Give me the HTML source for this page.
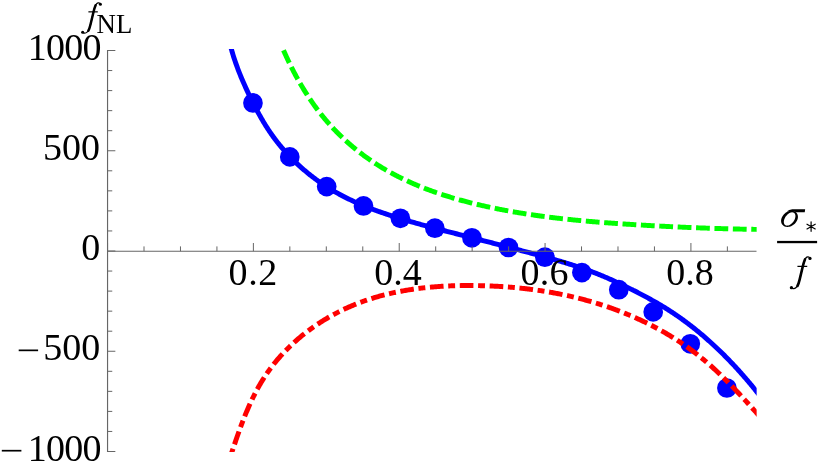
<!DOCTYPE html>
<html><head><meta charset="utf-8"><title>plot</title><style>
html,body{margin:0;padding:0;background:#fff}
#w{position:relative;width:830px;height:474px;overflow:hidden;background:#fff}
svg{display:block}
</style></head><body><div id="w">
<svg width="830" height="474" viewBox="0 0 830 474" style="will-change:transform">
<defs><clipPath id="c"><rect x="107.55" y="49.05" width="649.1" height="402.84999999999997"/></clipPath></defs>
<g clip-path="url(#c)" fill="none">
<g fill="#0000ff"><circle cx="252.95" cy="102.95" r="9.85"/><circle cx="289.80" cy="156.90" r="9.85"/><circle cx="326.70" cy="186.60" r="9.85"/><circle cx="363.50" cy="205.95" r="9.85"/><circle cx="400.40" cy="218.30" r="9.85"/><circle cx="434.90" cy="228.20" r="9.85"/><circle cx="471.90" cy="237.80" r="9.85"/><circle cx="508.50" cy="247.50" r="9.85"/><circle cx="544.90" cy="257.20" r="9.85"/><circle cx="581.90" cy="272.60" r="9.85"/><circle cx="618.80" cy="289.70" r="9.85"/><circle cx="653.20" cy="311.90" r="9.85"/><circle cx="690.30" cy="343.80" r="9.85"/><circle cx="726.90" cy="388.00" r="9.85"/></g>
<path d="M229.77 43.64 L231.45 49.40 L231.74 50.44 L232.03 51.48 L232.34 52.51 L232.65 53.55 L232.96 54.59 L233.28 55.62 L233.60 56.66 L233.93 57.69 L234.27 58.73 L234.61 59.76 L234.96 60.79 L235.31 61.83 L235.67 62.86 L236.03 63.89 L236.40 64.92 L236.77 65.95 L237.15 66.98 L237.53 68.01 L237.92 69.04 L238.31 70.06 L238.70 71.09 L239.10 72.12 L239.51 73.14 L239.91 74.16 L240.33 75.19 L240.74 76.21 L241.16 77.23 L241.59 78.25 L242.02 79.27 L242.45 80.28 L242.89 81.30 L243.33 82.31 L243.77 83.33 L244.22 84.34 L244.67 85.35 L245.12 86.36 L245.58 87.36 L246.04 88.37 L246.50 89.38 L246.96 90.38 L247.43 91.38 L247.90 92.38 L248.38 93.38 L248.85 94.38 L249.33 95.37 L249.82 96.36 L250.30 97.36 L250.79 98.35 L251.28 99.33 L251.77 100.32 L252.26 101.30 L252.76 102.29 L253.25 103.27 L253.75 104.24 L254.25 105.22 L254.76 106.19 L255.26 107.17 L255.77 108.13 L256.28 109.10 L256.79 110.07 L257.31 111.03 L257.83 111.99 L258.35 112.95 L258.88 113.91 L259.40 114.86 L259.94 115.81 L260.47 116.76 L261.01 117.71 L261.55 118.65 L262.10 119.59 L262.65 120.53 L263.20 121.46 L263.76 122.40 L264.32 123.33 L264.89 124.26 L265.46 125.18 L266.04 126.10 L266.62 127.02 L267.21 127.94 L267.80 128.85 L268.40 129.76 L269.00 130.67 L269.60 131.57 L270.22 132.48 L270.84 133.37 L271.46 134.27 L272.09 135.16 L272.73 136.05 L273.37 136.94 L274.02 137.82 L274.67 138.70 L275.33 139.57 L275.99 140.44 L276.66 141.31 L277.34 142.18 L278.02 143.04 L278.71 143.90 L279.40 144.75 L280.10 145.61 L280.80 146.45 L281.51 147.30 L282.22 148.14 L282.94 148.97 L283.66 149.81 L284.39 150.64 L285.13 151.46 L285.87 152.28 L286.61 153.10 L287.36 153.91 L288.11 154.72 L288.87 155.53 L289.63 156.33 L290.40 157.13 L291.17 157.92 L291.95 158.71 L292.73 159.49 L293.52 160.27 L294.31 161.05 L295.10 161.82 L295.90 162.59 L296.71 163.35 L297.51 164.11 L298.32 164.87 L299.14 165.62 L299.96 166.36 L300.78 167.10 L301.61 167.84 L302.44 168.57 L303.28 169.30 L304.12 170.02 L304.96 170.74 L305.81 171.45 L306.66 172.16 L307.52 172.87 L308.37 173.56 L309.24 174.26 L310.10 174.95 L310.97 175.63 L311.84 176.31 L312.72 176.98 L313.60 177.65 L314.48 178.32 L315.36 178.97 L316.25 179.63 L317.14 180.28 L318.04 180.92 L318.93 181.56 L319.83 182.19 L320.74 182.82 L321.64 183.44 L322.55 184.05 L323.46 184.67 L324.38 185.27 L325.29 185.87 L326.21 186.47 L327.14 187.05 L328.06 187.64 L328.99 188.21 L329.92 188.79 L330.85 189.35 L331.78 189.91 L332.72 190.47 L333.66 191.02 L334.60 191.57 L335.55 192.11 L336.49 192.64 L337.44 193.17 L338.39 193.70 L339.34 194.22 L340.30 194.73 L341.26 195.24 L342.22 195.75 L343.18 196.25 L344.14 196.75 L345.11 197.24 L346.08 197.72 L347.05 198.21 L348.02 198.68 L349.00 199.16 L349.97 199.63 L350.95 200.09 L351.93 200.55 L352.91 201.01 L353.90 201.46 L354.88 201.91 L355.87 202.35 L356.86 202.79 L357.85 203.23 L358.85 203.66 L359.84 204.09 L360.84 204.52 L361.84 204.94 L362.84 205.35 L363.84 205.77 L364.85 206.18 L365.85 206.59 L366.86 206.99 L367.87 207.39 L368.88 207.79 L369.89 208.18 L370.91 208.57 L371.92 208.96 L372.94 209.34 L373.96 209.72 L374.98 210.10 L376.00 210.47 L377.02 210.84 L378.05 211.21 L379.07 211.58 L380.10 211.94 L381.13 212.30 L382.16 212.66 L383.19 213.02 L384.22 213.37 L385.26 213.72 L386.29 214.07 L387.33 214.42 L388.36 214.76 L389.40 215.10 L390.44 215.44 L391.48 215.78 L392.53 216.11 L393.57 216.44 L394.61 216.77 L395.66 217.10 L396.70 217.43 L397.75 217.76 L398.80 218.08 L399.85 218.40 L400.90 218.72 L401.95 219.04 L403.00 219.36 L404.06 219.67 L405.11 219.98 L406.16 220.30 L407.22 220.61 L408.28 220.92 L409.33 221.22 L410.39 221.53 L411.45 221.83 L412.51 222.14 L413.57 222.44 L414.63 222.74 L415.69 223.04 L416.75 223.34 L417.81 223.64 L418.88 223.93 L419.94 224.23 L421.00 224.52 L422.07 224.81 L423.13 225.10 L424.20 225.40 L425.27 225.68 L426.33 225.97 L427.40 226.26 L428.47 226.55 L429.54 226.83 L430.60 227.12 L431.67 227.40 L432.74 227.68 L433.81 227.97 L434.88 228.25 L435.95 228.53 L437.02 228.81 L438.09 229.09 L439.16 229.37 L440.23 229.64 L441.30 229.92 L442.37 230.20 L443.44 230.47 L444.51 230.75 L445.58 231.02 L446.65 231.30 L447.72 231.57 L448.79 231.85 L449.86 232.12 L450.94 232.39 L452.01 232.66 L453.08 232.94 L454.15 233.21 L455.22 233.48 L456.29 233.75 L457.36 234.02 L458.43 234.29 L459.50 234.57 L460.57 234.84 L461.63 235.11 L462.70 235.38 L463.77 235.65 L464.84 235.92 L465.91 236.19 L466.97 236.46 L468.04 236.73 L469.11 237.00 L470.17 237.27 L471.24 237.54 L472.30 237.81 L473.37 238.09 L474.43 238.36 L475.50 238.63 L476.56 238.90 L477.62 239.17 L478.68 239.45 L479.75 239.72 L480.81 239.99 L481.87 240.26 L482.93 240.54 L483.99 240.81 L485.05 241.08 L486.11 241.36 L487.17 241.63 L488.23 241.91 L489.28 242.18 L490.34 242.45 L491.40 242.73 L492.46 243.00 L493.51 243.28 L494.57 243.55 L495.63 243.83 L496.68 244.11 L497.74 244.38 L498.80 244.66 L499.85 244.93 L500.91 245.21 L501.96 245.49 L503.02 245.76 L504.07 246.04 L505.13 246.32 L506.18 246.59 L507.24 246.87 L508.29 247.15 L509.34 247.43 L510.40 247.70 L511.45 247.98 L512.50 248.26 L513.56 248.54 L514.61 248.82 L515.67 249.09 L516.72 249.37 L517.77 249.65 L518.83 249.93 L519.88 250.21 L520.93 250.49 L521.99 250.77 L523.04 251.05 L524.09 251.33 L525.15 251.61 L526.20 251.89 L527.25 252.17 L528.31 252.45 L529.36 252.73 L530.41 253.01 L531.47 253.29 L532.52 253.57 L533.57 253.86 L534.63 254.14 L535.68 254.42 L536.73 254.70 L537.79 254.99 L538.84 255.27 L539.89 255.56 L540.95 255.84 L542.00 256.13 L543.05 256.42 L544.11 256.71 L545.16 257.00 L546.21 257.29 L547.26 257.58 L548.31 257.87 L549.37 258.17 L550.42 258.46 L551.47 258.76 L552.52 259.05 L553.57 259.35 L554.62 259.65 L555.67 259.95 L556.72 260.26 L557.77 260.56 L558.82 260.87 L559.87 261.17 L560.91 261.48 L561.96 261.79 L563.01 262.11 L564.06 262.42 L565.10 262.74 L566.15 263.05 L567.19 263.38 L568.24 263.70 L569.28 264.02 L570.33 264.35 L571.37 264.68 L572.41 265.01 L573.46 265.34 L574.50 265.68 L575.54 266.02 L576.58 266.36 L577.62 266.70 L578.66 267.05 L579.70 267.40 L580.73 267.75 L581.77 268.10 L582.81 268.46 L583.84 268.82 L584.88 269.18 L585.91 269.55 L586.95 269.92 L587.98 270.29 L589.01 270.67 L590.04 271.05 L591.07 271.43 L592.10 271.82 L593.13 272.21 L594.16 272.60 L595.18 273.00 L596.21 273.40 L597.23 273.80 L598.26 274.21 L599.28 274.62 L600.30 275.03 L601.32 275.45 L602.34 275.88 L603.36 276.30 L604.38 276.73 L605.40 277.16 L606.41 277.60 L607.43 278.04 L608.44 278.48 L609.46 278.92 L610.47 279.37 L611.48 279.82 L612.49 280.28 L613.50 280.73 L614.50 281.19 L615.51 281.65 L616.51 282.12 L617.52 282.58 L618.52 283.05 L619.52 283.52 L620.52 284.00 L621.52 284.47 L622.51 284.95 L623.51 285.43 L624.51 285.91 L625.50 286.40 L626.49 286.88 L627.48 287.37 L628.47 287.86 L629.46 288.35 L630.44 288.84 L631.43 289.34 L632.41 289.83 L633.39 290.33 L634.37 290.82 L635.35 291.32 L636.33 291.82 L637.31 292.32 L638.28 292.83 L639.26 293.33 L640.23 293.84 L641.20 294.34 L642.16 294.85 L643.13 295.36 L644.10 295.87 L645.06 296.39 L646.02 296.90 L646.98 297.42 L647.94 297.94 L648.90 298.46 L649.85 298.98 L650.81 299.51 L651.76 300.04 L652.71 300.57 L653.66 301.10 L654.60 301.64 L655.55 302.18 L656.49 302.72 L657.43 303.26 L658.37 303.81 L659.31 304.36 L660.24 304.91 L661.17 305.47 L662.11 306.03 L663.04 306.59 L663.96 307.16 L664.89 307.73 L665.81 308.30 L666.74 308.88 L667.66 309.46 L668.57 310.04 L669.49 310.63 L670.40 311.22 L671.32 311.82 L672.23 312.42 L673.13 313.02 L674.04 313.63 L674.94 314.23 L675.84 314.85 L676.74 315.46 L677.64 316.08 L678.54 316.71 L679.43 317.34 L680.32 317.97 L681.21 318.60 L682.10 319.24 L682.99 319.88 L683.87 320.52 L684.75 321.17 L685.63 321.82 L686.51 322.47 L687.38 323.13 L688.26 323.79 L689.13 324.45 L690.00 325.12 L690.86 325.79 L691.73 326.46 L692.59 327.14 L693.45 327.81 L694.31 328.50 L695.17 329.18 L696.02 329.87 L696.87 330.56 L697.72 331.25 L698.57 331.95 L699.42 332.65 L700.26 333.35 L701.10 334.06 L701.94 334.76 L702.78 335.48 L703.62 336.19 L704.45 336.90 L705.28 337.62 L706.11 338.35 L706.94 339.07 L707.76 339.80 L708.58 340.53 L709.40 341.26 L710.22 341.99 L711.04 342.73 L711.85 343.47 L712.66 344.21 L713.47 344.96 L714.28 345.71 L715.08 346.46 L715.89 347.21 L716.69 347.96 L717.49 348.72 L718.28 349.48 L719.08 350.24 L719.87 351.00 L720.66 351.77 L721.45 352.54 L722.23 353.31 L723.02 354.08 L723.80 354.86 L724.58 355.63 L725.35 356.41 L726.13 357.19 L726.90 357.98 L727.67 358.76 L728.44 359.55 L729.20 360.34 L729.96 361.13 L730.73 361.93 L731.48 362.72 L732.24 363.52 L733.00 364.32 L733.75 365.12 L734.50 365.92 L735.24 366.73 L735.99 367.53 L736.73 368.34 L737.47 369.15 L738.21 369.96 L738.95 370.78 L739.68 371.59 L740.41 372.41 L741.14 373.23 L741.87 374.05 L742.59 374.87 L743.31 375.69 L744.03 376.52 L744.75 377.34 L745.47 378.17 L746.18 379.00 L746.89 379.83 L747.60 380.66 L748.31 381.50 L749.01 382.33 L749.71 383.17 L750.41 384.01 L751.11 384.84 L751.80 385.68 L752.49 386.53 L753.18 387.37 L753.87 388.21 L754.56 389.06 L755.24 389.90 L755.92 390.75 L756.60 391.60 L761.62 397.83" stroke="#0000ff" stroke-width="4.95"/>
<path d="M283.43 50.07 L283.79 50.90 L284.15 51.73 L284.52 52.55 L284.89 53.38 L285.26 54.20 L285.63 55.02 L286.00 55.84 L286.38 56.67 L286.76 57.49 L287.14 58.31 L287.52 59.12 L287.91 59.94 L288.29 60.76 L288.68 61.57 L289.07 62.39 L289.47 63.20 L289.86 64.01 L290.26 64.82 L290.66 65.64 L291.06 66.44 L291.46 67.25 L291.87 68.06 L292.28 68.87 L292.69 69.67 L293.10 70.47 L293.51 71.28 L293.93 72.08 L294.35 72.88 L294.77 73.68 L295.20 74.47 L295.62 75.27 L296.05 76.06 L296.48 76.86 L296.91 77.65 L297.35 78.44 L297.79 79.23 L298.23 80.02 L298.67 80.80 L299.11 81.59 L299.56 82.37 L300.01 83.16 L300.46 83.94 L300.92 84.71 L301.37 85.49 L301.83 86.27 L302.29 87.04 L302.76 87.82 L303.22 88.59 L303.69 89.36 L304.16 90.13 L304.64 90.89 L305.11 91.66 L305.59 92.42 L306.08 93.18 L306.56 93.94 L307.05 94.70 L307.53 95.45 L308.03 96.21 L308.52 96.96 L309.02 97.71 L309.52 98.46 L310.02 99.21 L310.52 99.95 L311.03 100.70 L311.54 101.44 L312.05 102.18 L312.57 102.91 L313.09 103.65 L313.61 104.38 L314.13 105.11 L314.65 105.84 L315.18 106.57 L315.71 107.30 L316.25 108.02 L316.79 108.74 L317.32 109.46 L317.87 110.18 L318.41 110.89 L318.96 111.60 L319.51 112.31 L320.06 113.02 L320.62 113.73 L321.18 114.43 L321.74 115.13 L322.31 115.83 L322.87 116.53 L323.44 117.22 L324.02 117.92 L324.59 118.61 L325.17 119.29 L325.75 119.98 L326.33 120.66 L326.92 121.34 L327.51 122.02 L328.10 122.70 L328.70 123.37 L329.29 124.04 L329.89 124.71 L330.50 125.38 L331.10 126.04 L331.71 126.70 L332.32 127.36 L332.93 128.02 L333.55 128.67 L334.17 129.33 L334.79 129.97 L335.41 130.62 L336.04 131.27 L336.66 131.91 L337.29 132.55 L337.93 133.18 L338.56 133.82 L339.20 134.45 L339.84 135.08 L340.48 135.71 L341.13 136.33 L341.78 136.95 L342.43 137.57 L343.08 138.19 L343.73 138.80 L344.39 139.41 L345.05 140.02 L345.71 140.63 L346.38 141.23 L347.04 141.83 L347.71 142.43 L348.38 143.02 L349.06 143.62 L349.73 144.21 L350.41 144.79 L351.09 145.38 L351.77 145.96 L352.46 146.54 L353.14 147.11 L353.83 147.69 L354.52 148.26 L355.22 148.83 L355.91 149.39 L356.61 149.95 L357.31 150.51 L358.01 151.07 L358.72 151.62 L359.42 152.17 L360.13 152.72 L360.84 153.27 L361.55 153.81 L362.27 154.35 L362.98 154.89 L363.70 155.42 L364.42 155.95 L365.15 156.48 L365.87 157.00 L366.60 157.53 L367.32 158.04 L368.06 158.56 L368.79 159.07 L369.52 159.58 L370.26 160.09 L371.00 160.60 L371.74 161.10 L372.48 161.60 L373.22 162.09 L373.97 162.58 L374.71 163.07 L375.46 163.56 L376.21 164.04 L376.97 164.52 L377.72 165.00 L378.48 165.48 L379.24 165.95 L380.00 166.42 L380.76 166.88 L381.52 167.35 L382.29 167.81 L383.05 168.26 L383.82 168.72 L384.59 169.17 L385.36 169.62 L386.14 170.07 L386.91 170.51 L387.69 170.95 L388.47 171.39 L389.25 171.82 L390.03 172.26 L390.81 172.69 L391.60 173.11 L392.38 173.54 L393.17 173.96 L393.96 174.38 L394.75 174.80 L395.54 175.21 L396.34 175.62 L397.13 176.03 L397.93 176.44 L398.73 176.84 L399.53 177.24 L400.33 177.64 L401.13 178.04 L401.94 178.43 L402.74 178.82 L403.55 179.21 L404.36 179.59 L405.17 179.98 L405.98 180.36 L406.79 180.73 L407.61 181.11 L408.42 181.48 L409.24 181.85 L410.05 182.22 L410.87 182.59 L411.69 182.95 L412.52 183.31 L413.34 183.67 L414.16 184.03 L414.99 184.38 L415.81 184.73 L416.64 185.08 L417.47 185.43 L418.30 185.77 L419.13 186.11 L419.96 186.45 L420.80 186.79 L421.63 187.13 L422.47 187.46 L423.31 187.79 L424.14 188.12 L424.98 188.44 L425.82 188.77 L426.66 189.09 L427.51 189.41 L428.35 189.73 L429.19 190.04 L430.04 190.35 L430.89 190.66 L431.73 190.97 L432.58 191.28 L433.43 191.58 L434.28 191.89 L435.13 192.19 L435.98 192.48 L436.84 192.78 L437.69 193.07 L438.55 193.36 L439.40 193.65 L440.26 193.94 L441.12 194.23 L441.97 194.51 L442.83 194.79 L443.69 195.07 L444.55 195.35 L445.41 195.62 L446.28 195.90 L447.14 196.17 L448.00 196.44 L448.87 196.71 L449.73 196.97 L450.60 197.24 L451.47 197.50 L452.33 197.76 L453.20 198.02 L454.07 198.27 L454.94 198.53 L455.81 198.78 L456.68 199.03 L457.55 199.28 L458.42 199.53 L459.30 199.77 L460.17 200.02 L461.04 200.26 L461.92 200.50 L462.79 200.74 L463.67 200.97 L464.54 201.21 L465.42 201.44 L466.30 201.67 L467.17 201.90 L468.05 202.13 L468.93 202.36 L469.81 202.58 L470.69 202.81 L471.57 203.03 L472.45 203.25 L473.33 203.47 L474.21 203.68 L475.09 203.90 L475.97 204.11 L476.86 204.32 L477.74 204.53 L478.62 204.74 L479.50 204.95 L480.39 205.15 L481.27 205.36 L482.15 205.56 L483.04 205.76 L483.92 205.96 L484.81 206.16 L485.69 206.36 L486.58 206.55 L487.46 206.74 L488.35 206.94 L489.24 207.13 L490.12 207.32 L491.01 207.51 L491.89 207.69 L492.78 207.88 L493.67 208.06 L494.55 208.24 L495.44 208.43 L496.33 208.61 L497.21 208.78 L498.10 208.96 L498.99 209.14 L499.88 209.31 L500.76 209.49 L501.65 209.66 L502.54 209.83 L503.43 210.00 L504.31 210.17 L505.20 210.33 L506.09 210.50 L506.98 210.67 L507.87 210.83 L508.76 210.99 L509.64 211.15 L510.53 211.31 L511.42 211.47 L512.31 211.63 L513.20 211.78 L514.09 211.94 L514.98 212.09 L515.87 212.24 L516.75 212.39 L517.64 212.54 L518.53 212.69 L519.42 212.84 L520.31 212.99 L521.20 213.13 L522.09 213.28 L522.98 213.42 L523.87 213.56 L524.76 213.70 L525.65 213.84 L526.54 213.98 L527.43 214.12 L528.32 214.26 L529.21 214.39 L530.11 214.53 L531.00 214.66 L531.89 214.79 L532.78 214.92 L533.67 215.05 L534.56 215.18 L535.45 215.31 L536.34 215.44 L537.23 215.56 L538.13 215.69 L539.02 215.81 L539.91 215.94 L540.80 216.06 L541.69 216.18 L542.58 216.30 L543.48 216.42 L544.37 216.54 L545.26 216.65 L546.15 216.77 L547.05 216.88 L547.94 217.00 L548.83 217.11 L549.72 217.22 L550.62 217.34 L551.51 217.45 L552.40 217.56 L553.29 217.67 L554.19 217.77 L555.08 217.88 L555.97 217.99 L556.87 218.09 L557.76 218.20 L558.65 218.30 L559.55 218.40 L560.44 218.50 L561.34 218.61 L562.23 218.71 L563.12 218.80 L564.02 218.90 L564.91 219.00 L565.80 219.10 L566.70 219.19 L567.59 219.29 L568.49 219.38 L569.38 219.48 L570.28 219.57 L571.17 219.66 L572.07 219.75 L572.96 219.84 L573.85 219.93 L574.75 220.02 L575.64 220.11 L576.54 220.20 L577.43 220.29 L578.33 220.37 L579.23 220.46 L580.12 220.54 L581.02 220.63 L581.91 220.71 L582.81 220.79 L583.70 220.88 L584.60 220.96 L585.49 221.04 L586.39 221.12 L587.29 221.20 L588.18 221.28 L589.08 221.36 L589.97 221.43 L590.87 221.51 L591.77 221.59 L592.66 221.66 L593.56 221.74 L594.45 221.81 L595.35 221.89 L596.25 221.96 L597.14 222.03 L598.04 222.11 L598.94 222.18 L599.83 222.25 L600.73 222.32 L601.63 222.39 L602.52 222.46 L603.42 222.53 L604.32 222.60 L605.22 222.67 L606.11 222.73 L607.01 222.80 L607.91 222.87 L608.80 222.93 L609.70 223.00 L610.60 223.06 L611.50 223.13 L612.39 223.19 L613.29 223.26 L614.19 223.32 L615.09 223.38 L615.99 223.45 L616.88 223.51 L617.78 223.57 L618.68 223.63 L619.58 223.69 L620.48 223.75 L621.37 223.81 L622.27 223.87 L623.17 223.93 L624.07 223.99 L624.97 224.05 L625.87 224.11 L626.76 224.16 L627.66 224.22 L628.56 224.28 L629.46 224.34 L630.36 224.39 L631.26 224.45 L632.16 224.50 L633.06 224.56 L633.95 224.62 L634.85 224.67 L635.75 224.73 L636.65 224.78 L637.55 224.83 L638.45 224.89 L639.35 224.94 L640.25 225.00 L641.15 225.05 L642.05 225.10 L642.95 225.15 L643.85 225.21 L644.74 225.26 L645.64 225.31 L646.54 225.36 L647.44 225.41 L648.34 225.46 L649.24 225.51 L650.14 225.57 L651.04 225.62 L651.94 225.67 L652.84 225.71 L653.74 225.76 L654.64 225.81 L655.54 225.86 L656.44 225.91 L657.34 225.96 L658.24 226.01 L659.14 226.05 L660.04 226.10 L660.94 226.15 L661.84 226.19 L662.74 226.24 L663.64 226.29 L664.54 226.33 L665.44 226.38 L666.34 226.42 L667.25 226.47 L668.15 226.51 L669.05 226.56 L669.95 226.60 L670.85 226.65 L671.75 226.69 L672.65 226.73 L673.55 226.78 L674.45 226.82 L675.35 226.86 L676.25 226.90 L677.15 226.94 L678.05 226.99 L678.95 227.03 L679.86 227.07 L680.76 227.11 L681.66 227.15 L682.56 227.19 L683.46 227.23 L684.36 227.27 L685.26 227.31 L686.16 227.35 L687.06 227.38 L687.97 227.42 L688.87 227.46 L689.77 227.50 L690.67 227.53 L691.57 227.57 L692.47 227.61 L693.37 227.64 L694.27 227.68 L695.18 227.72 L696.08 227.75 L696.98 227.79 L697.88 227.82 L698.78 227.86 L699.68 227.89 L700.58 227.92 L701.49 227.96 L702.39 227.99 L703.29 228.02 L704.19 228.06 L705.09 228.09 L705.99 228.12 L706.90 228.15 L707.80 228.18 L708.70 228.22 L709.60 228.25 L710.50 228.28 L711.41 228.31 L712.31 228.34 L713.21 228.37 L714.11 228.40 L715.01 228.42 L715.91 228.45 L716.82 228.48 L717.72 228.51 L718.62 228.54 L719.52 228.56 L720.42 228.59 L721.33 228.62 L722.23 228.64 L723.13 228.67 L724.03 228.70 L724.93 228.72 L725.84 228.75 L726.74 228.77 L727.64 228.80 L728.54 228.82 L729.44 228.84 L730.35 228.87 L731.25 228.89 L732.15 228.91 L733.05 228.94 L733.95 228.96 L734.86 228.98 L735.76 229.00 L736.66 229.02 L737.56 229.04 L738.47 229.06 L739.37 229.08 L740.27 229.10 L741.17 229.12 L742.07 229.14 L742.98 229.16 L743.88 229.18 L744.78 229.20 L745.68 229.21 L746.58 229.23 L747.49 229.25 L748.39 229.27 L749.29 229.28 L750.19 229.30 L751.10 229.31 L752.00 229.33 L752.90 229.34 L753.80 229.36 L754.70 229.37 L755.61 229.39 L756.51 229.40 L764.51 229.53" stroke="#00ff00" stroke-width="4.95" stroke-dasharray="13.8 4.61" stroke-dashoffset="-0.3"/>
<path d="M230.20 457.08 L232.12 451.40 L232.46 450.39 L232.80 449.39 L233.14 448.38 L233.48 447.38 L233.82 446.37 L234.16 445.37 L234.50 444.36 L234.85 443.35 L235.19 442.34 L235.54 441.33 L235.88 440.32 L236.23 439.31 L236.58 438.31 L236.93 437.30 L237.29 436.29 L237.64 435.28 L238.00 434.27 L238.35 433.26 L238.71 432.25 L239.08 431.24 L239.44 430.23 L239.80 429.22 L240.17 428.21 L240.54 427.20 L240.91 426.19 L241.29 425.18 L241.66 424.18 L242.04 423.17 L242.43 422.17 L242.81 421.16 L243.20 420.16 L243.59 419.16 L243.98 418.16 L244.38 417.15 L244.78 416.16 L245.18 415.16 L245.58 414.16 L245.99 413.16 L246.40 412.17 L246.82 411.18 L247.24 410.19 L247.66 409.20 L248.09 408.21 L248.52 407.22 L248.95 406.24 L249.39 405.25 L249.83 404.27 L250.28 403.29 L250.73 402.31 L251.18 401.34 L251.64 400.37 L252.10 399.40 L252.57 398.43 L253.04 397.46 L253.51 396.50 L253.99 395.53 L254.47 394.57 L254.96 393.62 L255.46 392.66 L255.96 391.71 L256.46 390.76 L256.97 389.82 L257.48 388.87 L257.99 387.93 L258.52 387.00 L259.04 386.06 L259.58 385.13 L260.11 384.20 L260.66 383.28 L261.20 382.36 L261.76 381.44 L262.31 380.52 L262.88 379.61 L263.45 378.70 L264.02 377.80 L264.60 376.90 L265.19 376.00 L265.78 375.11 L266.38 374.22 L266.98 373.33 L267.59 372.45 L268.20 371.57 L268.82 370.70 L269.45 369.83 L270.08 368.96 L270.71 368.10 L271.36 367.24 L272.00 366.39 L272.66 365.54 L273.32 364.70 L273.98 363.85 L274.65 363.02 L275.32 362.18 L276.00 361.35 L276.69 360.53 L277.38 359.71 L278.08 358.89 L278.78 358.08 L279.48 357.27 L280.19 356.47 L280.91 355.67 L281.63 354.87 L282.35 354.08 L283.08 353.29 L283.82 352.51 L284.56 351.73 L285.30 350.96 L286.05 350.19 L286.80 349.42 L287.56 348.66 L288.32 347.90 L289.09 347.15 L289.86 346.40 L290.64 345.66 L291.42 344.92 L292.20 344.18 L292.99 343.45 L293.78 342.73 L294.58 342.00 L295.38 341.29 L296.18 340.57 L296.99 339.87 L297.80 339.16 L298.62 338.46 L299.44 337.77 L300.27 337.08 L301.10 336.39 L301.93 335.71 L302.76 335.03 L303.60 334.36 L304.45 333.69 L305.29 333.03 L306.14 332.37 L307.00 331.72 L307.85 331.07 L308.71 330.43 L309.58 329.79 L310.44 329.15 L311.31 328.52 L312.19 327.90 L313.06 327.27 L313.94 326.66 L314.83 326.05 L315.71 325.44 L316.60 324.84 L317.49 324.24 L318.39 323.65 L319.29 323.06 L320.19 322.48 L321.09 321.90 L322.00 321.33 L322.91 320.76 L323.82 320.20 L324.73 319.64 L325.65 319.09 L326.57 318.54 L327.49 318.00 L328.41 317.46 L329.34 316.93 L330.27 316.40 L331.20 315.87 L332.13 315.36 L333.07 314.84 L334.01 314.33 L334.95 313.83 L335.89 313.33 L336.84 312.84 L337.78 312.35 L338.73 311.87 L339.68 311.39 L340.64 310.91 L341.59 310.44 L342.55 309.98 L343.51 309.52 L344.47 309.07 L345.44 308.62 L346.40 308.17 L347.37 307.73 L348.34 307.30 L349.31 306.87 L350.29 306.45 L351.27 306.03 L352.24 305.61 L353.22 305.20 L354.21 304.80 L355.19 304.40 L356.17 304.00 L357.16 303.61 L358.15 303.22 L359.14 302.84 L360.14 302.47 L361.13 302.10 L362.13 301.73 L363.12 301.37 L364.12 301.01 L365.13 300.66 L366.13 300.31 L367.13 299.97 L368.14 299.63 L369.15 299.30 L370.16 298.97 L371.17 298.65 L372.18 298.33 L373.20 298.02 L374.22 297.71 L375.23 297.41 L376.25 297.11 L377.27 296.81 L378.29 296.52 L379.32 296.23 L380.34 295.95 L381.37 295.67 L382.40 295.40 L383.43 295.13 L384.46 294.87 L385.49 294.61 L386.52 294.35 L387.56 294.10 L388.59 293.85 L389.63 293.61 L390.67 293.37 L391.71 293.14 L392.75 292.91 L393.79 292.68 L394.83 292.46 L395.88 292.24 L396.92 292.03 L397.97 291.82 L399.02 291.61 L400.07 291.41 L401.12 291.21 L402.17 291.01 L403.22 290.82 L404.27 290.64 L405.33 290.45 L406.38 290.27 L407.44 290.10 L408.50 289.93 L409.55 289.76 L410.61 289.59 L411.67 289.43 L412.73 289.28 L413.79 289.12 L414.86 288.97 L415.92 288.83 L416.98 288.68 L418.05 288.54 L419.11 288.41 L420.18 288.28 L421.25 288.15 L422.31 288.02 L423.38 287.90 L424.45 287.78 L425.52 287.67 L426.59 287.55 L427.66 287.45 L428.73 287.34 L429.81 287.24 L430.88 287.14 L431.95 287.04 L433.03 286.95 L434.10 286.86 L435.18 286.77 L436.25 286.69 L437.33 286.61 L438.40 286.53 L439.48 286.46 L440.56 286.39 L441.63 286.32 L442.71 286.26 L443.79 286.19 L444.87 286.13 L445.95 286.08 L447.03 286.02 L448.10 285.97 L449.18 285.93 L450.26 285.88 L451.34 285.84 L452.42 285.80 L453.50 285.76 L454.59 285.73 L455.67 285.70 L456.75 285.67 L457.83 285.64 L458.91 285.62 L459.99 285.60 L461.07 285.58 L462.15 285.56 L463.23 285.55 L464.32 285.54 L465.40 285.53 L466.48 285.53 L467.56 285.52 L468.64 285.52 L469.72 285.52 L470.80 285.52 L471.88 285.53 L472.96 285.54 L474.05 285.55 L475.13 285.56 L476.21 285.58 L477.29 285.59 L478.37 285.61 L479.45 285.63 L480.53 285.66 L481.60 285.68 L482.68 285.71 L483.76 285.74 L484.84 285.77 L485.92 285.81 L487.00 285.84 L488.07 285.88 L489.15 285.92 L490.23 285.97 L491.30 286.01 L492.38 286.06 L493.46 286.11 L494.53 286.16 L495.61 286.22 L496.68 286.27 L497.76 286.33 L498.83 286.39 L499.91 286.46 L500.98 286.52 L502.05 286.59 L503.13 286.66 L504.20 286.73 L505.27 286.81 L506.34 286.89 L507.41 286.97 L508.48 287.05 L509.56 287.13 L510.63 287.22 L511.70 287.31 L512.77 287.40 L513.83 287.50 L514.90 287.59 L515.97 287.69 L517.04 287.79 L518.11 287.90 L519.17 288.00 L520.24 288.11 L521.31 288.22 L522.37 288.34 L523.44 288.45 L524.50 288.57 L525.57 288.69 L526.63 288.82 L527.69 288.94 L528.76 289.07 L529.82 289.20 L530.88 289.34 L531.94 289.47 L533.00 289.61 L534.06 289.76 L535.12 289.90 L536.18 290.05 L537.24 290.20 L538.30 290.35 L539.36 290.50 L540.41 290.66 L541.47 290.82 L542.52 290.98 L543.58 291.15 L544.63 291.31 L545.69 291.48 L546.74 291.66 L547.80 291.83 L548.85 292.01 L549.90 292.19 L550.95 292.38 L552.00 292.56 L553.05 292.75 L554.10 292.94 L555.15 293.14 L556.20 293.33 L557.25 293.53 L558.29 293.74 L559.34 293.94 L560.39 294.15 L561.43 294.36 L562.47 294.58 L563.52 294.79 L564.56 295.01 L565.60 295.23 L566.65 295.46 L567.69 295.69 L568.73 295.92 L569.77 296.15 L570.81 296.39 L571.84 296.63 L572.88 296.87 L573.92 297.11 L574.95 297.36 L575.99 297.61 L577.02 297.87 L578.06 298.12 L579.09 298.38 L580.12 298.64 L581.15 298.91 L582.19 299.18 L583.22 299.45 L584.24 299.72 L585.27 300.00 L586.30 300.28 L587.33 300.56 L588.35 300.85 L589.38 301.14 L590.40 301.43 L591.43 301.73 L592.45 302.02 L593.47 302.32 L594.49 302.63 L595.51 302.94 L596.53 303.25 L597.55 303.56 L598.57 303.88 L599.59 304.20 L600.60 304.52 L601.62 304.84 L602.63 305.17 L603.65 305.50 L604.66 305.84 L605.67 306.18 L606.68 306.52 L607.69 306.86 L608.70 307.21 L609.71 307.56 L610.72 307.91 L611.72 308.27 L612.73 308.63 L613.73 308.99 L614.74 309.36 L615.74 309.73 L616.74 310.10 L617.74 310.48 L618.74 310.86 L619.74 311.24 L620.74 311.63 L621.74 312.02 L622.73 312.41 L623.73 312.80 L624.72 313.20 L625.71 313.61 L626.71 314.01 L627.70 314.42 L628.69 314.83 L629.68 315.25 L630.66 315.67 L631.65 316.09 L632.64 316.51 L633.62 316.94 L634.61 317.38 L635.59 317.81 L636.57 318.25 L637.55 318.69 L638.53 319.14 L639.51 319.59 L640.48 320.04 L641.46 320.49 L642.44 320.95 L643.41 321.42 L644.38 321.88 L645.35 322.35 L646.32 322.82 L647.29 323.30 L648.25 323.78 L649.22 324.26 L650.18 324.75 L651.14 325.24 L652.10 325.73 L653.06 326.22 L654.01 326.72 L654.97 327.22 L655.92 327.73 L656.87 328.24 L657.82 328.75 L658.77 329.27 L659.71 329.79 L660.66 330.31 L661.60 330.83 L662.54 331.36 L663.47 331.90 L664.41 332.43 L665.34 332.97 L666.27 333.51 L667.20 334.06 L668.13 334.61 L669.05 335.16 L669.97 335.71 L670.89 336.27 L671.81 336.83 L672.72 337.40 L673.64 337.97 L674.55 338.54 L675.45 339.11 L676.36 339.69 L677.26 340.27 L678.16 340.86 L679.06 341.45 L679.95 342.04 L680.84 342.63 L681.73 343.23 L682.62 343.83 L683.50 344.44 L684.38 345.04 L685.26 345.65 L686.14 346.27 L687.01 346.89 L687.88 347.51 L688.75 348.13 L689.61 348.76 L690.48 349.39 L691.34 350.02 L692.19 350.66 L693.05 351.30 L693.90 351.94 L694.75 352.59 L695.60 353.24 L696.44 353.89 L697.29 354.55 L698.12 355.21 L698.96 355.87 L699.80 356.54 L700.63 357.21 L701.46 357.88 L702.28 358.55 L703.11 359.23 L703.93 359.91 L704.75 360.60 L705.57 361.29 L706.38 361.98 L707.19 362.67 L708.00 363.37 L708.81 364.07 L709.61 364.78 L710.41 365.48 L711.21 366.19 L712.01 366.91 L712.81 367.62 L713.60 368.34 L714.39 369.06 L715.18 369.79 L715.96 370.51 L716.75 371.24 L717.53 371.97 L718.31 372.71 L719.08 373.45 L719.86 374.18 L720.63 374.93 L721.40 375.67 L722.17 376.41 L722.94 377.16 L723.71 377.91 L724.47 378.67 L725.23 379.42 L725.99 380.18 L726.75 380.93 L727.51 381.69 L728.26 382.45 L729.01 383.22 L729.77 383.98 L730.52 384.75 L731.26 385.52 L732.01 386.29 L732.76 387.06 L733.50 387.83 L734.24 388.61 L734.98 389.38 L735.72 390.16 L736.46 390.94 L737.20 391.72 L737.93 392.50 L738.67 393.28 L739.40 394.06 L740.13 394.84 L740.86 395.63 L741.59 396.41 L742.32 397.20 L743.04 397.98 L743.77 398.77 L744.50 399.56 L745.22 400.35 L745.94 401.14 L746.66 401.93 L747.39 402.72 L748.11 403.51 L748.83 404.30 L749.54 405.09 L750.26 405.88 L750.98 406.67 L751.69 407.46 L752.41 408.25 L753.12 409.05 L753.84 409.84 L754.55 410.63 L755.27 411.42 L755.98 412.21 L756.69 413.00 L762.05 418.95" stroke="#ff0000" stroke-width="4.95" stroke-dasharray="13.65 4.65 6.93 4.65" stroke-dashoffset="16.50"/>
</g>
<g stroke="#666666" fill="none">
<path d="M107.0 251.2 H756.5" stroke-width="1.05"/>
<path d="M107.55 50.0 V452.0" stroke-width="1.15"/>
<path d="M107.55 251.2 v-8.2 M144.01 251.2 v-4.8 M180.47 251.2 v-4.8 M216.93 251.2 v-4.8 M253.39 251.2 v-8.2 M289.85 251.2 v-4.8 M326.31 251.2 v-4.8 M362.77 251.2 v-4.8 M399.23 251.2 v-8.2 M435.69 251.2 v-4.8 M472.15 251.2 v-4.8 M508.61 251.2 v-4.8 M545.07 251.2 v-8.2 M581.53 251.2 v-4.8 M617.99 251.2 v-4.8 M654.45 251.2 v-4.8 M690.91 251.2 v-8.2 M727.37 251.2 v-4.8 M107.55 451.50 h7.8 M107.55 431.45 h4.7 M107.55 411.40 h4.7 M107.55 391.35 h4.7 M107.55 371.30 h4.7 M107.55 351.25 h7.8 M107.55 331.20 h4.7 M107.55 311.15 h4.7 M107.55 291.10 h4.7 M107.55 271.05 h4.7 M107.55 251.00 h7.8 M107.55 230.95 h4.7 M107.55 210.90 h4.7 M107.55 190.85 h4.7 M107.55 170.80 h4.7 M107.55 150.75 h7.8 M107.55 130.70 h4.7 M107.55 110.65 h4.7 M107.55 90.60 h4.7 M107.55 70.55 h4.7 M107.55 50.50 h7.8" stroke-width="1.0"/>
</g>
<g font-family="Liberation Serif, serif" font-size="38.0" fill="#000"><text x="101.44" y="59.50" text-anchor="end" textLength="73.8" lengthAdjust="spacing">1000</text><text x="100.04" y="159.75" text-anchor="end">500</text><text x="100.14" y="260.00" text-anchor="end">0</text><text x="100.14" y="360.25" text-anchor="end">500</text><text x="101.44" y="460.50" text-anchor="end" textLength="73.8" lengthAdjust="spacing">1000</text><rect x="18.7" y="349.50" width="19.4" height="1.7"/><rect x="1.8" y="449.85" width="19.6" height="1.7"/><text x="252.89" y="285.0" text-anchor="middle" textLength="48.8" lengthAdjust="spacing">0.2</text><text x="398.03" y="285.0" text-anchor="middle" textLength="47.5" lengthAdjust="spacing">0.4</text><text x="544.57" y="285.0" text-anchor="middle" textLength="47.95" lengthAdjust="spacing">0.6</text><text x="689.96" y="285.0" text-anchor="middle" textLength="47.6" lengthAdjust="spacing">0.8</text></g>
<g transform="translate(0.00 0.00) translate(81.1 1.9) scale(1.0) translate(-81.1 -1.9)" fill="none" stroke="#000" stroke-linecap="round" stroke-linejoin="round"><path d="M100.3 4.3 C100 2.5 97.7 2.3 96.5 3.8 C95 5.8 94.3 8.5 93.5 12 L90.5 24.5 C89.7 28 88.7 30.6 87.1 32.1 C85.7 33.4 83.5 33.5 82.8 32.2" stroke-width="1.25"/><path d="M95.6 5.2 C94.8 7 94.2 9 93.5 12 L90.5 24.5 C89.9 27 89.3 29 88.4 30.6" stroke-width="2.5"/><path d="M88.4 11.85 H97.8" stroke-width="1.2" stroke-linecap="butt"/><circle cx="100.4" cy="4.25" r="1.55" fill="#000" stroke="none"/><circle cx="82.65" cy="32.2" r="1.55" fill="#000" stroke="none"/></g>
<g transform="translate(708.70 254.10) translate(81.1 1.9) scale(1.045) translate(-81.1 -1.9)" fill="none" stroke="#000" stroke-linecap="round" stroke-linejoin="round"><path d="M100.3 4.3 C100 2.5 97.7 2.3 96.5 3.8 C95 5.8 94.3 8.5 93.5 12 L90.5 24.5 C89.7 28 88.7 30.6 87.1 32.1 C85.7 33.4 83.5 33.5 82.8 32.2" stroke-width="1.25"/><path d="M95.6 5.2 C94.8 7 94.2 9 93.5 12 L90.5 24.5 C89.9 27 89.3 29 88.4 30.6" stroke-width="2.5"/><path d="M88.4 11.85 H97.8" stroke-width="1.2" stroke-linecap="butt"/><circle cx="100.4" cy="4.25" r="1.55" fill="#000" stroke="none"/><circle cx="82.65" cy="32.2" r="1.55" fill="#000" stroke="none"/></g>
<text x="96.6" y="32.5" font-size="26.8" font-family="Liberation Serif, serif" fill="#000">NL</text>
<path fill="#000" fill-rule="evenodd" d="M794.14 224.29 L793.43 224.85 L792.68 225.35 L791.90 225.80 L791.10 226.17 L790.28 226.48 L789.45 226.71 L788.63 226.86 L787.81 226.94 L787.01 226.94 L786.23 226.87 L785.49 226.71 L784.78 226.48 L784.12 226.18 L783.51 225.80 L782.96 225.36 L782.47 224.86 L782.04 224.30 L781.70 223.68 L781.42 223.02 L781.22 222.32 L781.11 221.59 L781.07 220.82 L781.12 220.04 L781.24 219.25 L781.45 218.46 L781.73 217.67 L782.09 216.89 L782.52 216.13 L783.01 215.39 L783.57 214.69 L784.19 214.03 L784.86 213.41 L785.57 212.85 L786.32 212.35 L787.10 211.90 L787.90 211.53 L788.72 211.22 L789.55 210.99 L790.37 210.84 L791.19 210.76 L791.99 210.76 L792.77 210.83 L793.51 210.99 L794.22 211.22 L794.88 211.52 L795.49 211.90 L796.04 212.34 L796.53 212.84 L796.96 213.40 L797.30 214.02 L797.58 214.68 L797.78 215.38 L797.89 216.11 L797.93 216.88 L797.88 217.66 L797.76 218.45 L797.55 219.24 L797.27 220.03 L796.91 220.81 L796.48 221.57 L795.99 222.31 L795.43 223.01 L794.81 223.67Z M793.34 221.70 L792.88 222.28 L792.40 222.83 L791.88 223.35 L791.35 223.82 L790.80 224.24 L790.24 224.62 L789.67 224.94 L789.10 225.20 L788.54 225.40 L787.98 225.54 L787.45 225.62 L786.93 225.63 L786.44 225.58 L785.98 225.46 L785.56 225.29 L785.17 225.05 L784.83 224.75 L784.53 224.40 L784.29 224.00 L784.09 223.54 L783.95 223.05 L783.86 222.51 L783.83 221.94 L783.86 221.35 L783.94 220.72 L784.07 220.09 L784.26 219.44 L784.50 218.79 L784.79 218.14 L785.12 217.49 L785.50 216.86 L785.92 216.26 L786.38 215.68 L786.86 215.13 L787.38 214.61 L787.91 214.14 L788.46 213.72 L789.02 213.34 L789.59 213.02 L790.16 212.76 L790.72 212.56 L791.28 212.42 L791.81 212.34 L792.33 212.33 L792.82 212.38 L793.28 212.50 L793.70 212.67 L794.09 212.91 L794.43 213.21 L794.73 213.56 L794.97 213.96 L795.17 214.42 L795.31 214.91 L795.40 215.45 L795.43 216.02 L795.40 216.61 L795.32 217.24 L795.19 217.87 L795.00 218.52 L794.76 219.17 L794.47 219.82 L794.14 220.47 L793.76 221.10Z"/>
<path fill="#000" d="M786.6 211.6 Q789.2 209.5 792.3 209.15 L805.15 209.15 L804.75 212.35 L796.8 212.35 L792.5 211.2 Z"/>
<rect x="777.1" y="240.9" width="40" height="2.3" fill="#000"/>
<path d="M811.10 221.85 L811.10 231.35 M806.99 224.22 L815.21 228.97 M815.21 224.22 L806.99 228.97" stroke="#000" stroke-width="1.2" stroke-linecap="round" fill="none"/>
</svg>
</div></body></html>
